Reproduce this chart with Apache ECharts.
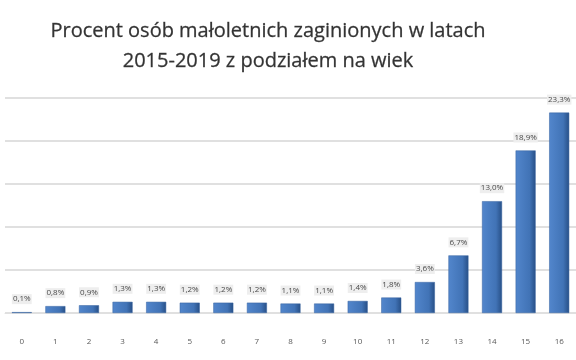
<!DOCTYPE html>
<html><head><meta charset="utf-8">
<script src="https://cdn.jsdelivr.net/npm/echarts@6/dist/echarts.min.js"></script>
<style>html,body{margin:0;padding:0;background:#fff}#c{width:576px;height:360px}</style>
</head><body><div id="c"></div>
<script>
var categories = ['0','1','2','3','4','5','6','7','8','9','10','11','12','13','14','15','16'];
var values = [0.1,0.8,0.9,1.3,1.3,1.2,1.2,1.2,1.1,1.1,1.4,1.8,3.6,6.7,13.0,18.9,23.3];
var titleLines = ['Procent osób małoletnich zaginionych w latach','2015-2019 z podziałem na wiek'];

var chart = echarts.init(document.getElementById('c'), null, {renderer:'canvas'});
chart.setOption({
  animation:false,
  backgroundColor:'#fff',
  title:{
    text: titleLines.join('\n'),
    left:263, top:11, textAlign:'center',
    textStyle:{fontFamily:'Open Sans', fontSize:20, fontWeight:'normal', color:'#333333', lineHeight:30,
      textBorderColor:'#555', textBorderWidth:0.3}
  },
  grid:{left:5, right:-2, top:98, bottom:47, containLabel:false},
  xAxis:{
    type:'category', data:categories,
    axisLine:{show:true, lineStyle:{color:'#e0e0e0', width:1}},
    axisTick:{show:false},
    axisLabel:{fontFamily:'Open Sans', fontSize:8, color:'#595959', margin:25}
  },
  yAxis:{
    type:'value', min:0, max:25, interval:5,
    axisLabel:{show:false}, axisLine:{show:false}, axisTick:{show:false},
    splitLine:{lineStyle:{color:'#d6d6d6', width:1.5}}
  },
  series:[{
    type:'bar', data:values, barWidth:20,
    itemStyle:{
      color:new echarts.graphic.LinearGradient(0,0,1,0,[
        {offset:0,color:'#5286cc'},{offset:0.7,color:'#4173b6'},{offset:1,color:'#274f86'}
      ]),
      borderColor:'#34619e', borderWidth:0.5
    },
    label:{
      show:true, position:'top', distance:8,
      formatter:function(p){return p.value.toFixed(1).replace('.',',')+'%';},
      fontFamily:'Open Sans', fontSize:8, color:'#4a4a4a',
      backgroundColor:'#eeeeee', padding:[1,1]
    }
  }]
});
</script></body></html>
